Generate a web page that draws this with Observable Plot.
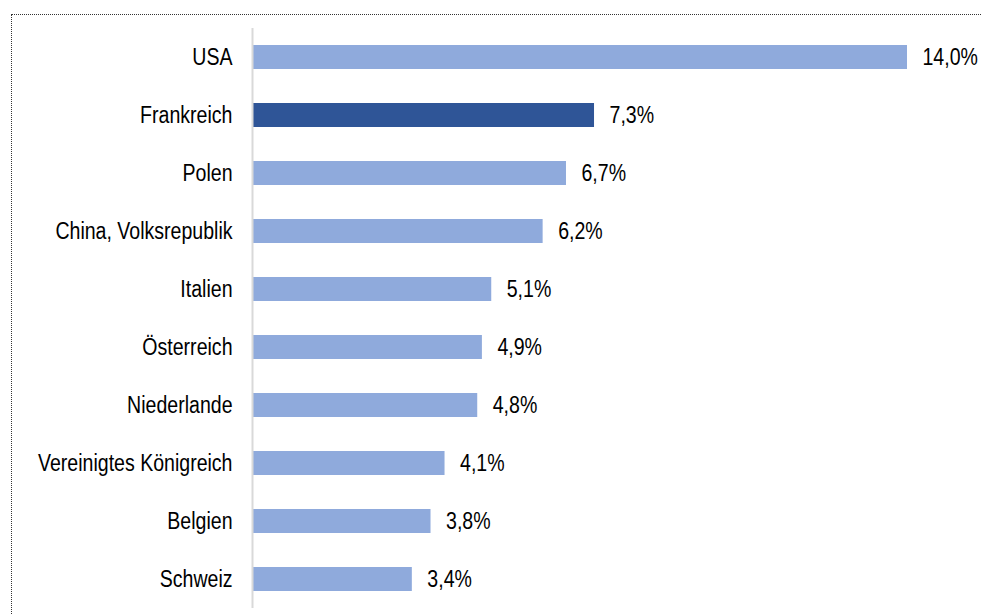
<!DOCTYPE html>
<html>
<head>
<meta charset="utf-8">
<script src="https://cdn.jsdelivr.net/npm/d3@7"></script>
<script src="https://cdn.jsdelivr.net/npm/@observablehq/plot@0.6"></script>
<style>
  html, body { margin: 0; padding: 0; background: #fff; overflow: hidden; }
  #wrap { position: relative; width: 981px; height: 614px; }
  #frame { position: absolute; left: 11px; top: 14px; width: 1000px; height: 640px; border: 1px dotted #333; box-sizing: border-box; }
  #chart { position: absolute; left: 0; top: 0; }
</style>
</head>
<body>
<div id="wrap"><div id="frame"></div><div id="chart"></div></div>
<script>
const countries = ["USA", "Frankreich", "Polen", "China, Volksrepublik", "Italien", "Österreich", "Niederlande", "Vereinigtes Königreich", "Belgien", "Schweiz"];
const shares = [14.0, 7.3, 6.7, 6.2, 5.1, 4.9, 4.8, 4.1, 3.8, 3.4];
const highlight = "Frankreich";

const data = countries.map((c, i) => ({country: c, value: shares[i]}));
const fmt = v => v.toFixed(1).replace(".", ",") + "%";
const font = "'Liberation Sans Narrow', 'Arial Narrow', 'Liberation Sans', sans-serif";

const chart = Plot.plot({
  width: 981,
  height: 614,
  marginLeft: 253,
  marginRight: 74,
  marginTop: 28,
  marginBottom: 6,
  style: {fontFamily: font, fontSize: "23px", color: "#000", background: "transparent"},
  x: {domain: [0, 14], axis: null},
  y: {domain: countries, paddingInner: 0.59, paddingOuter: 0.295, align: 0.5, label: null, axis: null},
  marks: [
    Plot.barX(data, {y: "country", x: "value", fill: d => d.country === highlight ? "#2f5597" : "#8faadc"}),
    Plot.ruleX([0], {stroke: "#d9d9d9", strokeWidth: 2, dx: -1}),
    Plot.text(data, {y: "country", x: "value", text: d => fmt(d.value), textAnchor: "start", dx: 15, fill: "#000", fontSize: 23}),
    Plot.axisY({tickSize: 0, tickPadding: 21, label: null, fontSize: 23})
  ]
});
document.getElementById("chart").appendChild(chart);

// condense glyphs horizontally (substitute for a narrow face)
chart.querySelectorAll("text").forEach(t => {
  const w = t.getComputedTextLength();
  if (w > 0) {
    t.setAttribute("textLength", (w * 0.85).toFixed(1));
    t.setAttribute("lengthAdjust", "spacingAndGlyphs");
  }
});
</script>
</body>
</html>
